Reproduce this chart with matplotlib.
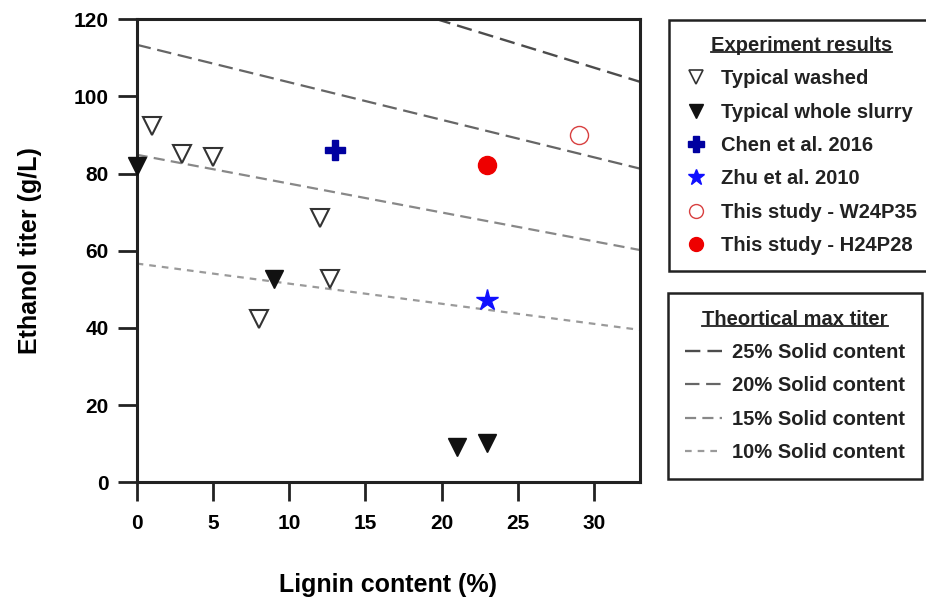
import matplotlib
matplotlib.use('Agg')
import matplotlib.pyplot as plt
from matplotlib.lines import Line2D

plt.rcParams['font.family'] = ['Liberation Sans', 'DejaVu Sans']
plt.rcParams['font.weight'] = 'bold'
plt.rcParams['axes.labelweight'] = 'bold'
plt.rcParams['text.color'] = '#222222'

# experiment results (lignin %, ethanol titer g/L)
washed_lignin = [1, 3, 5, 12, 12.7, 8]
washed_titer = [92.3, 85.0, 84.2, 68.6, 52.6, 42.2]
slurry_lignin = [0, 9, 21, 23]
slurry_titer = [82.0, 52.8, 9.2, 10.1]
chen_lignin = [13]
chen_titer = [86.1]
zhu_lignin = [23]
zhu_titer = [47.2]
w24p35_lignin = [29]
w24p35_titer = [90.1]
h24p28_lignin = [23]
h24p28_titer = [82.2]

# theoretical max titer lines, values at lignin = 0 and 33
line_lignin = [0, 33]
max_25 = [144.0, 103.8]
max_20 = [113.4, 81.3]
max_15 = [84.9, 60.2]
max_10 = [56.7, 39.5]

fig = plt.figure(figsize=(9.26, 6.01), dpi=100)
ax = fig.add_axes([0.1476, 0.1975, 0.5435, 0.7704])

ax.plot(line_lignin, max_25, color='#4c4c4c', lw=1.7, dashes=(6.5, 3))
ax.plot(line_lignin, max_20, color='#666666', lw=1.6, dashes=(6.5, 3))
ax.plot(line_lignin, max_15, color='#888888', lw=1.6, dashes=(5, 2.8))
ax.plot(line_lignin, max_10, color='#9a9a9a', lw=1.6, dashes=(3, 2.7))

ax.plot(washed_lignin, washed_titer, ls='none', marker='v', ms=13, mfc='white', mec='#333333', mew=1.5, zorder=3)
ax.plot(slurry_lignin, slurry_titer, ls='none', marker='v', ms=13, mfc='#111111', mec='#111111', mew=1, zorder=3, clip_on=False)
ax.plot(chen_lignin, chen_titer, ls='none', marker='P', ms=14, mfc='#0000a0', mec='#0000a0', zorder=3)
ax.plot(zhu_lignin, zhu_titer, ls='none', marker='*', ms=16, mfc='#1010ff', mec='#1010ff', zorder=3)
ax.plot(w24p35_lignin, w24p35_titer, ls='none', marker='o', ms=13, mfc='white', mec='#d84040', mew=1.0, zorder=3)
ax.plot(h24p28_lignin, h24p28_titer, ls='none', marker='o', ms=13, mfc='#ee0000', mec='#ee0000', zorder=3)

ax.set_xlim(0, 33)
ax.set_ylim(0, 120)
ax.set_xticks([0, 5, 10, 15, 20, 25, 30])
ax.set_yticks([0, 20, 40, 60, 80, 100, 120])
ax.tick_params(direction='out', length=14, width=2, labelsize=15, color='#222222')
ax.tick_params(axis='x', pad=9)
ax.tick_params(axis='y', pad=6)
for s in ax.spines.values():
    s.set_linewidth(2.2)
    s.set_color('#222222')

ax.set_xlabel('Lignin content (%)', fontsize=18)
ax.set_ylabel('Ethanol titer (g/L)', fontsize=18)
ax.xaxis.set_label_coords(0.5, -0.195)
ax.yaxis.set_label_coords(-0.188, 0.5)

# legends
h1 = [
    Line2D([], [], ls='none', marker='v', ms=10, mfc='white', mec='#333333', mew=1.2),
    Line2D([], [], ls='none', marker='v', ms=10, mfc='#111111', mec='#111111'),
    Line2D([], [], ls='none', marker='P', ms=11, mfc='#0000a0', mec='#0000a0'),
    Line2D([], [], ls='none', marker='*', ms=12, mfc='#1010ff', mec='#1010ff'),
    Line2D([], [], ls='none', marker='o', ms=10, mfc='white', mec='#d84040', mew=1.0),
    Line2D([], [], ls='none', marker='o', ms=10, mfc='#ee0000', mec='#ee0000'),
]
l1 = ['Typical washed', 'Typical whole slurry', 'Chen et al. 2016', 'Zhu et al. 2010',
      'This study - W24P35', 'This study - H24P28']
h2 = [
    Line2D([], [], color='#4c4c4c', lw=1.7, dashes=(6.5, 3)),
    Line2D([], [], color='#666666', lw=1.6, dashes=(6.5, 3)),
    Line2D([], [], color='#888888', lw=1.6, dashes=(5, 2.8)),
    Line2D([], [], color='#9a9a9a', lw=1.6, dashes=(3, 2.7)),
]
l2 = ['25% Solid content', '20% Solid content', '15% Solid content', '10% Solid content']

font = dict(weight='bold', size=14.5)
leg1 = fig.legend(h1, l1, loc='upper left', bbox_to_anchor=(0.7225, 0.9667), title='Experiment results',
                  prop=font, title_fontproperties=font, fancybox=False, edgecolor='#222222', framealpha=1,
                  borderpad=0.8, labelspacing=0.71, handlelength=1.1, handletextpad=0.7, borderaxespad=0)
leg2 = fig.legend(h2, l2, loc='upper left', bbox_to_anchor=(0.7217, 0.512), title='Theortical max titer',
                  prop=font, title_fontproperties=font, fancybox=False, edgecolor='#222222', framealpha=1,
                  borderpad=0.82, labelspacing=0.71, handlelength=1.85, handletextpad=0.5, borderaxespad=0)
for leg in (leg1, leg2):
    leg.get_frame().set_linewidth(1.8)

# underline legend titles
fig.canvas.draw()
r = fig.canvas.get_renderer()
inv = fig.transFigure.inverted()
for leg in (leg1, leg2):
    bb = leg.get_title().get_window_extent(r)
    (x0, y0), (x1, y1) = inv.transform([[bb.x0, bb.y0], [bb.x1, bb.y1]])
    fig.add_artist(Line2D([x0, x1], [y0 + 3 / 601, y0 + 3 / 601], transform=fig.transFigure,
                          color='#222222', lw=1.3, zorder=10))

fig.savefig('out.png', dpi=100)
